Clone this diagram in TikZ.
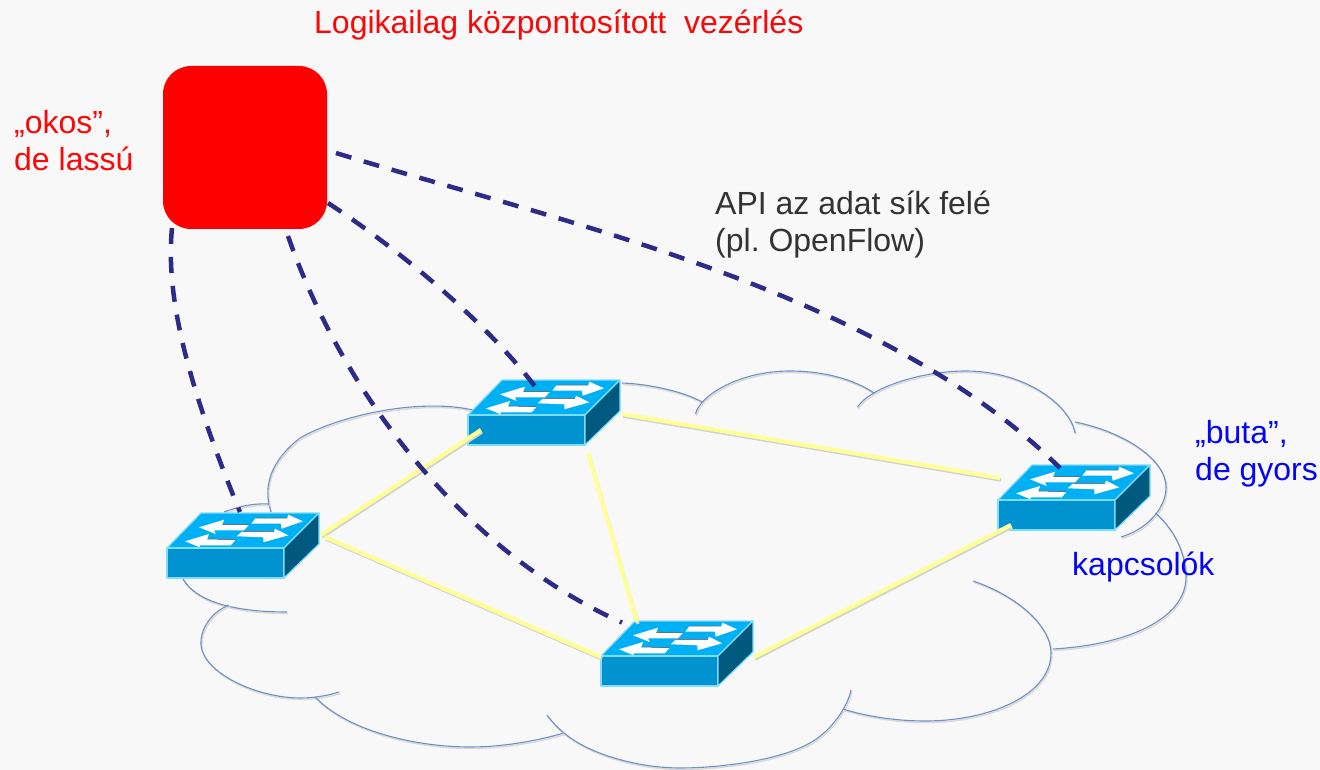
\documentclass[tikz,border=0pt]{standalone}
\usepackage{fontspec}
\setmainfont{Liberation Sans}
\frenchspacing
\definecolor{bgc}{HTML}{F8F8F9}
\definecolor{cloudc}{HTML}{6F90C4}
\definecolor{dashc}{HTML}{2E2A87}
\definecolor{yelc}{HTML}{FFFF99}
\definecolor{topc}{HTML}{00B0F5}
\definecolor{frontc}{HTML}{0093D0}
\definecolor{sidec}{HTML}{005A80}
\definecolor{edgec}{HTML}{7FDCFF}
\definecolor{bluetxt}{HTML}{0505F5}
\definecolor{redtxt}{HTML}{F80808}
\tikzset{
  x=1pt,y=-1pt,
  cloudline/.style={draw=cloudc,line width=1.1pt},
  cloudshadow/.style={draw=black!15,line width=1.4pt},
  swface/.style={draw=edgec,line width=1.2pt,line join=round},
  swarrow/.style={fill=white,draw=none},
  swdark/.style={draw=black!70,line width=.5pt},
  linkline/.style={draw=yelc,line width=4.2pt},
  linkshadow/.style={draw=black!18,line width=3.4pt},
  ctrl/.style={draw=dashc,line width=4.5pt,dash pattern=on 16pt off 13pt},
  lbl/.style={font=\fontsize{32}{37}\selectfont,anchor=west,inner sep=0pt,align=left},
  swnode/.style={inner sep=0pt,minimum width=152pt,minimum height=65pt,draw=none},
}
\newcommand{\cloudarc}[1]{%
  \draw[cloudshadow,shift={(1,1.5)}] #1;
  \draw[cloudline] #1;
}
\newcommand{\switchicon}[3]{%
  \begin{scope}[shift={(#2,#3)}]
    \fill[topc,swface] (0,-30) -- (34,-65) -- (152,-65) -- (117,-30) -- cycle;
    \fill[frontc,swface] (0,0) rectangle (117,-30);
    \fill[sidec,swface] (117,0) -- (152,-34) -- (152,-65) -- (117,-30) -- cycle;
    \fill[swarrow] (84.3,-54.3) -- (88.7,-60) -- (120.3,-60) -- (121.3,-63.3) -- (136,-56.7) -- (114.7,-49.3) -- (113.7,-54.3) -- cycle;
    \fill[swarrow] (69.7,-41.7) -- (75.3,-46.7) -- (107,-46.7) -- (108,-49.3) -- (121.3,-42.7) -- (96.3,-35.7) -- (96.3,-40.7) -- cycle;
    \fill[swarrow] (32,-50.7) -- (57,-58.3) -- (55.3,-53.3) -- (82,-53.3) -- (77,-47.7) -- (47,-47.7) -- (48.7,-44) -- cycle;
    \fill[swarrow] (18,-36.7) -- (42,-44) -- (40.3,-39) -- (68.7,-38.3) -- (63.7,-32.7) -- (32.7,-32.7) -- (32.7,-30.7) -- cycle;
    \draw[swdark] (88.7,-60) -- (120.3,-60) (75.3,-46.7) -- (107,-46.7) (55.3,-53.3) -- (82,-53.3) (40.3,-39) -- (68.7,-38.3);
  \end{scope}
  \node[swnode] (#1) at ({#2+76},{#3-32.5}) {};
}
\newcommand{\link}[6]{%
  \draw[linkshadow] ([shift={(#2+1,#3+2)}]#1.center) -- ([shift={(#5+1,#6+2)}]#4.center);
  \draw[linkline] ([shift={(#2,#3)}]#1.center) -- ([shift={(#5,#6)}]#4.center);
}
\begin{document}
\begin{tikzpicture}
\useasboundingbox (0,0) rectangle (1320,770);
\fill[bgc] (0,0) rectangle (1320,770);
% cloud
\cloudarc{(271,512) .. controls (262,485) and (272,460) .. (300,438) .. controls (340,415) and (420,398) .. (473,410)}
\cloudarc{(269,504) .. controls (250,503) and (235,508) .. (224,512)}
\cloudarc{(183,579) .. controls (195,600) and (230,612) .. (287,612)}
\cloudarc{(229,605) .. controls (212,612) and (200,628) .. (201,645) .. controls (203,672) and (255,698) .. (301,698) .. controls (315,698) and (330,695) .. (339,692)}
\cloudarc{(315,697) .. controls (350,733) and (420,747) .. (470,747) .. controls (505,747) and (540,740) .. (564,733)}
\cloudarc{(547,715) .. controls (552,722) and (558,728) .. (564,733) .. controls (590,755) and (640,768) .. (680,768) .. controls (720,768) and (790,760) .. (819,737) .. controls (835,725) and (848,705) .. (851,690)}
\cloudarc{(622,383) .. controls (650,384) and (685,392) .. (702,402)}
\cloudarc{(695.5,414) .. controls (700,395) and (740,371) .. (790,371) .. controls (825,371) and (855,380) .. (874,393)}
\cloudarc{(857.5,407) .. controls (870,388) and (920,371) .. (966,371) .. controls (1025,371) and (1070,405) .. (1075,433)}
\cloudarc{(1075,422) .. controls (1125,432) and (1166,460) .. (1166,487) .. controls (1166,510) and (1145,530) .. (1121,537)}
\cloudarc{(1155.5,513) .. controls (1175,530) and (1186,555) .. (1186,577) .. controls (1186,620) and (1125,645) .. (1053,649)}
\cloudarc{(973,581) .. controls (1015,595) and (1051,625) .. (1051,653) .. controls (1051,695) and (990,721) .. (925,721) .. controls (895,721) and (865,716) .. (843,709)}
% switches
\switchicon{swa}{167}{578}
\switchicon{swb}{468}{445}
\switchicon{swc}{998}{530}
\switchicon{swd}{601}{686}
% controller
\node[fill=red,rounded corners=28pt,minimum width=164pt,minimum height=163pt,inner sep=0pt] (ctl) at (245,147.5) {};
% links
\link{swa}{78}{-10.5}{swb}{-63}{17.5}
\link{swa}{82}{-8.5}{swd}{-76}{3.5}
\link{swb}{44}{40.5}{swd}{-40}{-31.5}
\link{swb}{78}{1.5}{swc}{-74}{-19.5}
\link{swc}{-63}{27.5}{swd}{77}{3.5}
% control channels
\draw[ctrl] ([shift={(-73,80.5)}]ctl.center) .. controls (165,300) and (190,390) .. ([shift={(-3,-33.5)}]swa.center);
\draw[ctrl] ([shift={(43,88.5)}]ctl.center) .. controls (345,400) and (470,555) .. ([shift={(-55,-31)}]swd.center);
\draw[ctrl] ([shift={(83,55.5)}]ctl.center) .. controls (400,250) and (490,325) .. ([shift={(-4,-19.5)}]swb.center);
\draw[ctrl] ([shift={(91,5.5)}]ctl.center) .. controls (560,222) and (880,290) .. ([shift={(-14,-29.5)}]swc.center);
% labels
\node[lbl,text=redtxt] (title) at (314,25) {Logikailag központosított\ \ vezérlés};
\node[lbl,text=redtxt] (okos) at (14,141) {„okos”,\\de lassú};
\node[lbl,text=black!80] (api) at (715,225) {API az adat sík felé\\(pl. OpenFlow)};
\node[lbl,text=bluetxt] (buta) at (1195,454) {„buta”,\\de gyors};
\node[lbl,text=bluetxt] (kap) at (1072,567) {kapcsolók};
\end{tikzpicture}
\end{document}
